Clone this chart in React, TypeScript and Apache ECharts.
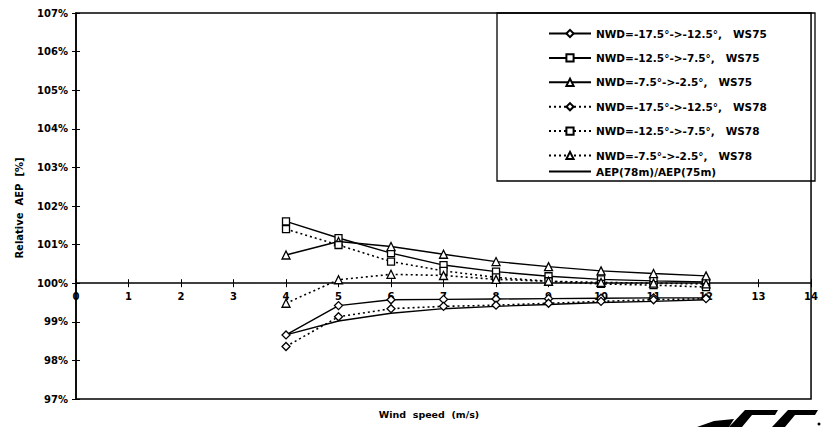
import React, { useEffect, useRef } from "react";
import * as echarts from "echarts";

// Wind speed categories (m/s)
const windSpeed = [4, 5, 6, 7, 8, 9, 10, 11, 12];

// Relative AEP values (%)
const ws75_m17 = [98.66, 99.42, 99.57, 99.58, 99.59, 99.6, 99.61, 99.62, 99.62];
const ws75_m12 = [101.6, 101.17, 100.78, 100.47, 100.3, 100.18, 100.1, 100.06, 100.03];
const ws75_m7 = [100.73, 101.08, 100.95, 100.75, 100.56, 100.43, 100.32, 100.25, 100.19];
const ws78_m17 = [98.36, 99.13, 99.34, 99.4, 99.43, 99.48, 99.53, 99.57, 99.6];
const ws78_m12 = [101.4, 100.99, 100.56, 100.32, 100.15, 100.05, 99.98, 99.95, 99.9];
const ws78_m7 = [99.48, 100.09, 100.23, 100.2, 100.1, 100.05, 100.02, 100.0, 99.98];
const aepRatio = [98.66, 99.02, 99.22, 99.34, 99.4, 99.45, 99.5, 99.53, 99.57];

const seriesNames = [
  "NWD=-17.5°->-12.5°,   WS75",
  "NWD=-12.5°->-7.5°,   WS75",
  "NWD=-7.5°->-2.5°,   WS75",
  "NWD=-17.5°->-12.5°,   WS78",
  "NWD=-12.5°->-7.5°,   WS78",
  "NWD=-7.5°->-2.5°,   WS78",
  "AEP(78m)/AEP(75m)",
];

const yTicksMin = 97;
const yTicksMax = 107;
const yBase = 100;
const xMin = 0;
const xMax = 14;

const FONT = "DejaVu Sans";

const GRID_TOP = 13;
const GRID_BOTTOM = 28;
const CHART_H = 427;

export default function App() {
  const ref = useRef<HTMLDivElement>(null);

  useEffect(() => {
    if (!ref.current) return;
    const chart = echarts.init(ref.current, undefined, { renderer: "svg" });

    const toPairs = (vals: number[]) => windSpeed.map((x, i) => [x, +(vals[i] - yBase).toFixed(3)]);

    const mk = (
      name: string,
      vals: number[],
      symbol: string,
      dotted: boolean,
      size: number
    ) => ({
      name,
      type: "line",
      data: toPairs(vals),
      symbol,
      symbolSize: size,
      showSymbol: symbol !== "none",
      lineStyle: { color: "#000", width: dotted ? 1.6 : 1.4, type: dotted ? [2, 3] : "solid" },
      itemStyle: { color: "#fff", borderColor: "#000", borderWidth: 1.3 },
      emphasis: { disabled: true },
      z: 3,
    });

    const series = [
      mk(seriesNames[0], ws75_m17, "diamond", false, 8),
      mk(seriesNames[1], ws75_m12, "rect", false, 7),
      mk(seriesNames[2], ws75_m7, "triangle", false, 8),
      mk(seriesNames[3], ws78_m17, "diamond", true, 8),
      mk(seriesNames[4], ws78_m12, "rect", true, 7),
      mk(seriesNames[5], ws78_m7, "triangle", true, 8),
      mk(seriesNames[6], aepRatio, "none", false, 0),
    ];

    // offset that places the x axis on the 100 % line
    const plotH = CHART_H - GRID_TOP - GRID_BOTTOM;
    const zeroOffset = -plotH * (yBase - yTicksMin) / (yTicksMax - yTicksMin);

    const axisLabelStyle = { color: "#000", fontFamily: FONT, fontWeight: "bold" as const, fontSize: 10 };
    const legendText = { color: "#000", fontFamily: FONT, fontWeight: "bold" as const, fontSize: 10.5 };

    const option: any = {
      animation: false,
      backgroundColor: "#fff",
      grid: {
        left: 76,
        right: 6,
        top: GRID_TOP,
        bottom: GRID_BOTTOM,
        show: true,
        borderColor: "#000",
        borderWidth: 1.5,
        containLabel: false,
      },
      xAxis: [
        {
          type: "value",
          min: xMin,
          max: xMax,
          interval: 1,
          position: "bottom",
          offset: zeroOffset,
          axisLine: { onZero: false, lineStyle: { color: "#000", width: 1.5 } },
          axisTick: { show: true, length: 4, lineStyle: { color: "#000", width: 1 } },
          axisLabel: { ...axisLabelStyle, margin: 8 },
          splitLine: { show: false },
        },
        {
          type: "value",
          min: xMin,
          max: xMax,
          interval: 1,
          position: "bottom",
          offset: zeroOffset,
          axisLine: { show: false, onZero: false },
          axisTick: { show: true, inside: true, length: 4, lineStyle: { color: "#000", width: 1 } },
          axisLabel: { show: false },
          splitLine: { show: false },
        },
      ],
      yAxis: [
        {
          type: "value",
          min: yTicksMin - yBase,
          max: yTicksMax - yBase,
          interval: 1,
          position: "left",
          axisLine: { show: true, onZero: false, lineStyle: { color: "#000", width: 1.5 } },
          axisTick: { show: true, length: 4, lineStyle: { color: "#000", width: 1 } },
          axisLabel: {
            ...axisLabelStyle,
            margin: 8,
            formatter: (v: number) => `${Math.round(v + yBase)}%`,
          },
          splitLine: { show: false },
        },
        {
          type: "value",
          min: yTicksMin - yBase,
          max: yTicksMax - yBase,
          interval: 1,
          position: "left",
          axisLine: { show: false, onZero: false },
          axisTick: { show: true, inside: true, length: 4, lineStyle: { color: "#000", width: 1 } },
          axisLabel: { show: false },
          splitLine: { show: false },
        },
      ],
      legend: [
        {
          data: seriesNames.slice(0, 6),
          orient: "vertical",
          left: 543,
          top: 23,
          itemWidth: 42,
          itemHeight: 9,
          itemGap: 13.4,
          selectedMode: false,
          textStyle: legendText,
          z: 5,
        },
        {
          data: [
            {
              name: seriesNames[6],
              itemStyle: { color: "rgba(0,0,0,0)", borderColor: "rgba(0,0,0,0)", borderWidth: 0 },
            },
          ],
          orient: "vertical",
          left: 543,
          top: 161,
          itemWidth: 42,
          itemHeight: 9,
          selectedMode: false,
          textStyle: legendText,
          z: 5,
        },
      ],
      graphic: [
        {
          type: "rect",
          shape: { x: 497, y: 13, width: 318, height: 168 },
          style: { fill: "none", stroke: "#000", lineWidth: 1.3 },
          z: 4,
        },
        {
          type: "text",
          x: 19,
          y: 208,
          rotation: Math.PI / 2,
          style: {
            text: "Relative  AEP  [%]",
            fill: "#000",
            font: `bold 10px "${FONT}"`,
            textAlign: "center",
            textVerticalAlign: "middle",
          },
        },
        {
          type: "text",
          x: 429,
          y: 414,
          style: {
            text: "Wind  speed  (m/s)",
            fill: "#000",
            font: `bold 9.5px "${FONT}"`,
            textAlign: "center",
            textVerticalAlign: "middle",
          },
        },
        {
          type: "polygon",
          shape: { points: [[697, 427], [729, 427], [734, 419], [714, 421]] },
          style: { fill: "#000" },
        },
        {
          type: "polygon",
          shape: { points: [[729, 427], [742, 427], [752, 415], [775, 415], [778, 410], [745, 410]] },
          style: { fill: "#000" },
        },
        {
          type: "polygon",
          shape: { points: [[772, 427], [785, 427], [795, 415], [815, 415], [818, 410], [788, 410]] },
          style: { fill: "#000" },
        },
        {
          type: "circle",
          shape: { cx: 819, cy: 424, r: 1.5 },
          style: { fill: "#000" },
        },
      ],
      series,
    };

    chart.setOption(option);
    return () => chart.dispose();
  }, []);

  return (
    <div
      ref={ref}
      style={{ position: "fixed", left: 0, top: 0, width: 821, height: 427, background: "#fff" }}
    />
  );
}
